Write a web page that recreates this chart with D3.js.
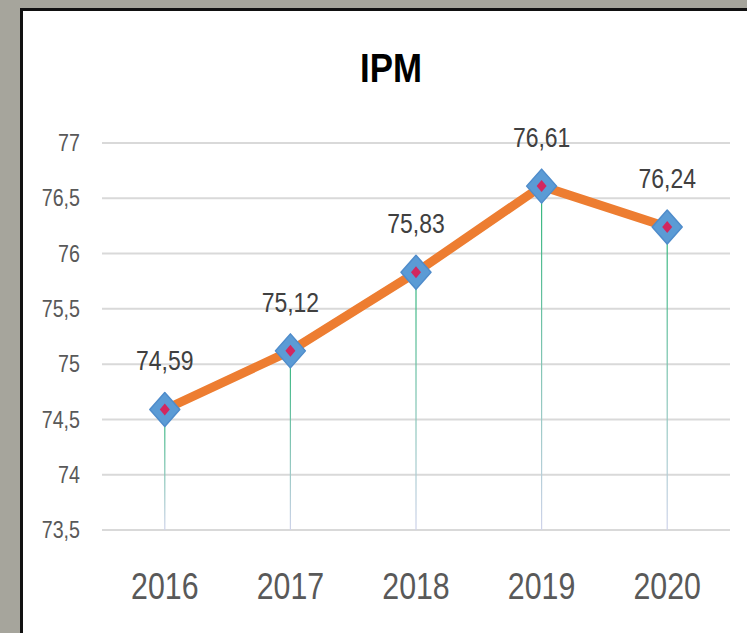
<!DOCTYPE html>
<html>
<head>
<meta charset="utf-8">
<script src="https://cdn.jsdelivr.net/npm/d3@7"></script>
<style>
  html, body { margin: 0; padding: 0; background: #a6a59c; }
  svg { display: block; }
  text { font-family: "Liberation Sans", Arial, sans-serif; }
</style>
</head>
<body>
<svg id="chart" width="747" height="633"></svg>
<script>
const years = ['2016', '2017', '2018', '2019', '2020'];
const ipm = [74.59, 75.12, 75.83, 76.61, 76.24];
const yTicks = [73.5, 74, 74.5, 75, 75.5, 76, 76.5, 77];
const title = 'IPM';

const svg = d3.select('#chart');
const width = 747;
const height = 633;
const margin = { top: 143, right: 17, bottom: 103, left: 102 };
const squeeze = 0.82; // the original uses a condensed face
const fmtComma = (v) => String(v).replace('.', ',');

// panel
svg.append('rect').attr('x', 0).attr('y', 0).attr('width', width).attr('height', height).attr('fill', '#a6a59c');
svg.append('rect').attr('x', 21).attr('y', 9).attr('width', width).attr('height', height).attr('fill', '#ffffff');
svg.append('path').attr('d', `M21.5,${height} V9.5 H${width}`).attr('fill', 'none').attr('stroke', '#111').attr('stroke-width', 3);

const x = d3.scaleBand().domain(years).range([margin.left, width - margin.right]);
const y = d3.scaleLinear().domain([73.5, 77]).range([height - margin.bottom, margin.top]);
const cx = (d) => x(d) + x.bandwidth() / 2;

// title
svg.append('text').attr('transform', `translate(391,82) scale(0.87,1)`).attr('text-anchor', 'middle')
  .attr('font-size', 40).attr('font-weight', 'bold').attr('fill', '#000').text(title);

// gridlines
svg.append('g').selectAll('line').data(yTicks).join('line')
  .attr('x1', margin.left).attr('x2', width - margin.right)
  .attr('y1', (d) => y(d)).attr('y2', (d) => y(d))
  .attr('stroke', '#d9d9d9').attr('stroke-width', 2);

// y axis labels
const yAxis = svg.append('g').attr('transform', `translate(${margin.left - 22},0)`)
  .call(d3.axisLeft(y).tickValues(yTicks).tickSize(0).tickPadding(0).tickFormat(fmtComma));
yAxis.select('.domain').remove();
yAxis.selectAll('text').attr('font-size', 24).attr('fill', '#595959')
  .attr('font-family', '"Liberation Sans", Arial, sans-serif')
  .attr('transform', `scale(${squeeze},1)`);

// x axis labels
const xAxis = svg.append('g').attr('transform', `translate(0,${height - margin.bottom})`)
  .call(d3.axisBottom(x).tickSize(0).tickPadding(0));
xAxis.select('.domain').remove();
xAxis.selectAll('text').attr('font-size', 37).attr('fill', '#595959').attr('dy', null).attr('y', 69)
  .attr('font-family', '"Liberation Sans", Arial, sans-serif')
  .attr('transform', `scale(${squeeze},1)`);

// drop lines
const defs = svg.append('defs');
const grad = defs.append('linearGradient').attr('id', 'drop').attr('x1', 0).attr('y1', 0).attr('x2', 0).attr('y2', 1);
grad.append('stop').attr('offset', '0%').attr('stop-color', '#2fb67a');
grad.append('stop').attr('offset', '100%').attr('stop-color', '#cfd3ea');

const points = years.map((yr, i) => ({ year: yr, value: ipm[i] }));

svg.append('g').selectAll('rect').data(points).join('rect')
  .attr('x', (d) => cx(d.year) - 0.6).attr('width', 1.2)
  .attr('y', (d) => y(d.value)).attr('height', (d) => y(73.5) - y(d.value))
  .attr('fill', 'url(#drop)');

// line
svg.append('path').datum(points)
  .attr('fill', 'none').attr('stroke', '#ed7d31').attr('stroke-width', 9).attr('stroke-linejoin', 'round')
  .attr('d', d3.line().x((d) => cx(d.year)).y((d) => y(d.value)));

// markers
const diamond = (rx, ry) => `M0,${-ry} L${rx},0 L0,${ry} L${-rx},0 Z`;
const marks = svg.append('g').selectAll('g').data(points).join('g')
  .attr('transform', (d) => `translate(${cx(d.year)},${y(d.value)})`);
marks.append('path').attr('d', diamond(15, 17)).attr('fill', '#5b9bd5')
  .attr('stroke', '#4f8ccb').attr('stroke-width', 1.5).attr('stroke-linejoin', 'round');
marks.append('path').attr('d', diamond(5, 6)).attr('fill', '#d2275f');

// data labels
svg.append('g').selectAll('text').data(points).join('text')
  .attr('transform', (d) => `translate(${cx(d.year)},${y(d.value) - 39}) scale(${squeeze},1)`)
  .attr('text-anchor', 'middle').attr('font-size', 28).attr('fill', '#404040')
  .text((d) => fmtComma(d.value.toFixed(2)));
</script>
</body>
</html>
